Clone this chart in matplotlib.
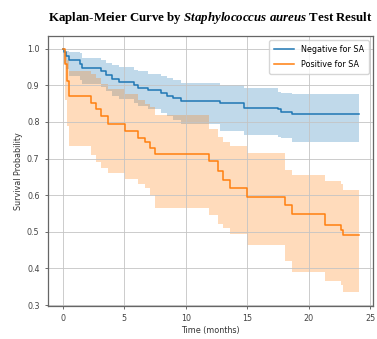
import numpy as np
import matplotlib
matplotlib.use("Agg")
import matplotlib.pyplot as plt

plt.rcParams['mathtext.fontset'] = 'custom'
plt.rcParams['mathtext.rm'] = 'Liberation Serif:bold'
plt.rcParams['mathtext.it'] = 'Liberation Serif:italic:bold'

# Kaplan-Meier estimates (time in months) with 95% confidence bands
neg_t = [0, 0.1, 0.3, 0.5, 1.4, 1.6, 3.1, 3.5, 4.0, 4.6, 5.8, 6.1, 6.9, 8.0, 8.5,
         9.0, 9.6, 12.8, 14.7, 17.5, 17.7, 18.6, 24.1]
neg_s = [1.0, 0.99, 0.98, 0.969, 0.959, 0.948, 0.938, 0.928, 0.917, 0.910, 0.900,
         0.893, 0.886, 0.879, 0.872, 0.865, 0.858, 0.853, 0.839, 0.835, 0.828, 0.821, 0.821]
neg_hi = [1.0, 1.0, 0.995, 0.99, 0.987, 0.975, 0.968, 0.962, 0.955, 0.95, 0.943,
          0.938, 0.932, 0.925, 0.92, 0.915, 0.906, 0.90, 0.893, 0.882, 0.879, 0.876, 0.876]
neg_lo = [1.0, 0.96, 0.945, 0.925, 0.915, 0.905, 0.895, 0.885, 0.872, 0.862, 0.852,
          0.843, 0.835, 0.825, 0.815, 0.805, 0.795, 0.775, 0.765, 0.76, 0.755, 0.745, 0.745]

pos_t = [0, 0.2, 0.35, 0.5, 2.3, 2.7, 3.1, 3.7, 5.1, 6.1, 6.7, 7.1, 7.5, 11.9, 12.6,
         13.0, 13.6, 15.0, 18.1, 18.6, 21.3, 22.6, 22.8, 24.1]
pos_s = [1.0, 0.957, 0.913, 0.870, 0.852, 0.835, 0.815, 0.794, 0.776, 0.757, 0.744,
         0.730, 0.712, 0.692, 0.665, 0.642, 0.620, 0.596, 0.573, 0.549, 0.518, 0.505,
         0.490, 0.490]
pos_hi = [1.0, 0.99, 0.97, 0.94, 0.93, 0.92, 0.905, 0.89, 0.875, 0.86, 0.85, 0.84,
          0.82, 0.78, 0.76, 0.745, 0.735, 0.715, 0.67, 0.655, 0.64, 0.63, 0.615, 0.615]
pos_lo = [1.0, 0.86, 0.79, 0.735, 0.71, 0.69, 0.675, 0.66, 0.645, 0.63, 0.62, 0.60,
          0.565, 0.545, 0.522, 0.51, 0.495, 0.465, 0.42, 0.39, 0.365, 0.355, 0.335, 0.335]

groups = [
    ("Negative for SA", neg_t, neg_s, neg_lo, neg_hi, "#1f77b4"),
    ("Positive for SA", pos_t, pos_s, pos_lo, pos_hi, "#ff7f0e"),
]

fig = plt.figure(figsize=(3.77, 3.39), dpi=100)
ax = fig.add_axes([0.127, 0.097, 0.862, 0.796])

for label, t, s, lo, hi, c in groups:
    ax.fill_between(t, lo, hi, step='post', color=c, alpha=0.28, linewidth=0)
    ax.step(t, s, where='post', color=c, linewidth=1.1, label=label)

ax.set_xlim(-1.2, 25.2)
ax.set_ylim(0.297, 1.034)
ax.set_xticks([0, 5, 10, 15, 20, 25])
ax.set_yticks([0.3, 0.4, 0.5, 0.6, 0.7, 0.8, 0.9, 1.0])
ax.grid(True, color='#c4c4c4', linewidth=0.6)
ax.tick_params(labelsize=5.8, length=2.5, width=0.6, colors='#555555', labelcolor='#444444')
for sp in ax.spines.values():
    sp.set_color('#666666')
    sp.set_linewidth(0.9)

ax.set_xlabel('Time (months)', fontsize=5.8, labelpad=2, color='#333333')
ax.set_ylabel('Survival Probability', fontsize=5.8, labelpad=3, color='#333333')
ax.set_title(r'Kaplan-Meier Curve by $\mathit{Staphylococcus\ aureus}$ Test Result',
             fontsize=9.3, fontfamily='Liberation Serif', fontweight='bold', pad=11)
ax.legend(loc='upper right', fontsize=5.8, handlelength=2.5, borderpad=0.6,
          labelspacing=0.7, framealpha=0.8)

fig.savefig('out.png', dpi=100)
